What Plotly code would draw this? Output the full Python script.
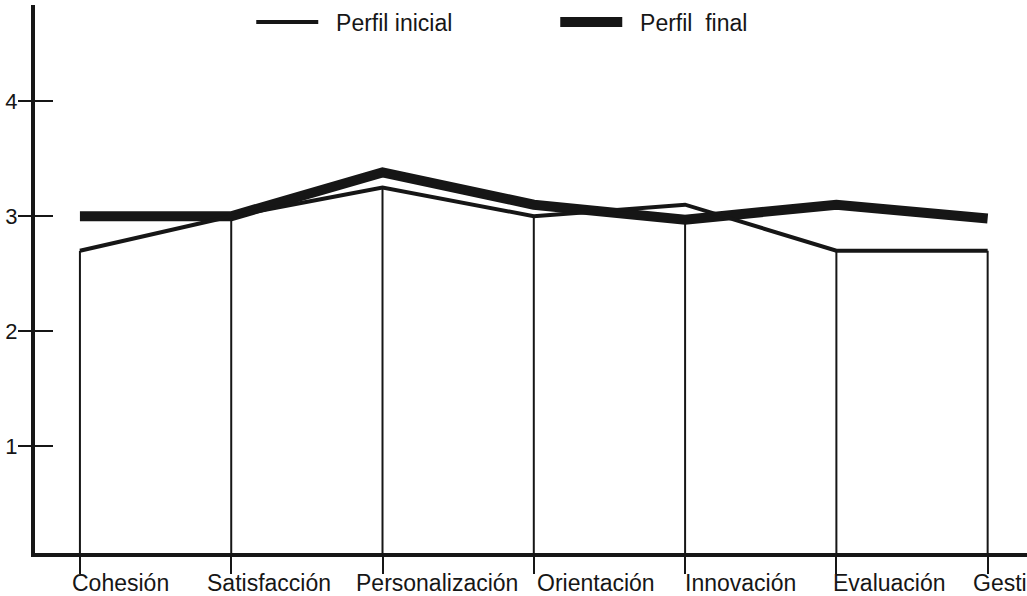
import plotly.graph_objects as go

categories = ["Cohesión", "Satisfacción", "Personalización", "Orientación",
              "Innovación", "Evaluación", "Gestión"]
perfil_inicial = [2.7, 3.0, 3.25, 3.0, 3.1, 2.7, 2.7]
perfil_final = [3.0, 3.0, 3.38, 3.1, 2.97, 3.1, 2.98]
y_ticks = [1, 2, 3, 4]
legend_names = ["\u00a0\u00a0Perfil inicial", "\u00a0\u00a0Perfil\u00a0\u00a0final"]

# label horizontal offsets (px) relative to each category position, left-anchored
label_shift = [-10, -26, -29, 1, -2, -5, -17]

FONT = "Liberation Sans, Arial, Helvetica, sans-serif"
INK = "#161616"
Y_RANGE = [0.074, 4.835]

fig = go.Figure()

# vertical drop lines from the axis up to the lower of the two profiles
for i, c in enumerate(categories):
    top = min(perfil_inicial[i], perfil_final[i])
    fig.add_trace(go.Scatter(x=[i, i], y=[Y_RANGE[0], top], mode="lines",
                             line=dict(color=INK, width=2), showlegend=False,
                             hoverinfo="skip"))

fig.add_trace(go.Scatter(x=list(range(len(categories))), y=perfil_final,
                         mode="lines", name=legend_names[1],
                         line=dict(color=INK, width=10)))
fig.add_trace(go.Scatter(x=list(range(len(categories))), y=perfil_inicial,
                         mode="lines", name=legend_names[0],
                         line=dict(color=INK, width=4)))

for i, c in enumerate(categories):
    fig.add_annotation(x=i, y=0, yref="paper", text=c, showarrow=False,
                       xanchor="left", yanchor="top", xshift=label_shift[i],
                       yshift=-16, height=24, valign="middle",
                       font=dict(family=FONT, size=23, color=INK))

fig.update_layout(
    width=1027, height=596,
    margin=dict(l=35, r=0, t=5, b=43),
    paper_bgcolor="white", plot_bgcolor="white",
    font=dict(family=FONT, color=INK),
    legend=dict(orientation="h", x=0.218, y=0.969, xanchor="left", yanchor="middle",
                font=dict(family=FONT, size=23, color=INK),
                traceorder="reversed", entrywidth=227, itemwidth=62,
                bgcolor="rgba(0,0,0,0)"),
    xaxis=dict(range=[-0.297, 6.26], tickvals=list(range(len(categories))),
               showticklabels=False, showgrid=False, zeroline=False,
               showline=True, linewidth=4, linecolor=INK,
               ticks="outside", ticklen=17, tickwidth=2, tickcolor=INK),
    yaxis=dict(range=Y_RANGE, tickvals=y_ticks, showgrid=False, zeroline=False,
               showline=True, linewidth=4, linecolor=INK,
               ticks="outside", ticklen=13, tickwidth=2, tickcolor=INK,
               ticklabelstandoff=-4,
               tickfont=dict(family=FONT, size=22, color=INK)),
    yaxis2=dict(range=Y_RANGE, tickvals=y_ticks, overlaying="y", side="left",
                showticklabels=False, showgrid=False, zeroline=False,
                ticks="inside", ticklen=18, tickwidth=2, tickcolor=INK),
)
# dummy trace to activate the overlay axis for inner tick marks
fig.add_trace(go.Scatter(x=[None], y=[None], yaxis="y2", showlegend=False,
                         hoverinfo="skip"))

fig.write_html("out.html", config={"displayModeBar": False},
               post_script="document.body.style.margin='0';"
                           "document.body.style.overflow='hidden';")
